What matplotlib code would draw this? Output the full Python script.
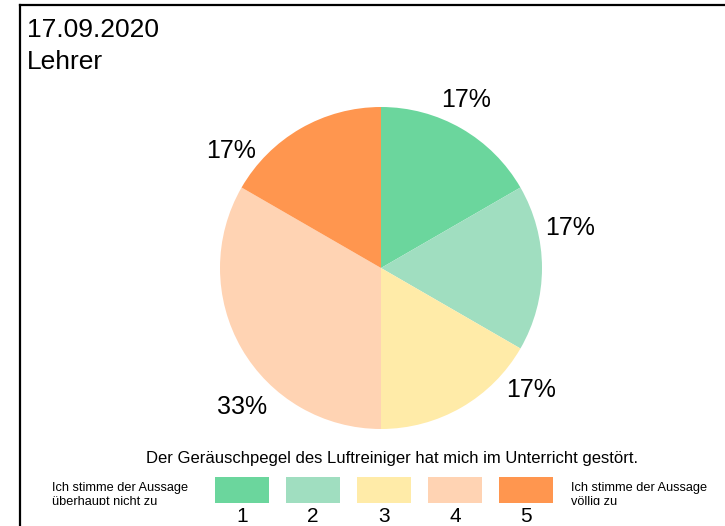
import numpy as np
import matplotlib.pyplot as plt
from matplotlib.lines import Line2D
from matplotlib.transforms import Bbox

plt.rcParams["font.family"] = ["Liberation Sans", "DejaVu Sans"]

# Survey answers (counts per rating)
ratings = ["1", "2", "3", "4", "5"]
counts = [1, 1, 1, 2, 1]
colors = ["#6bd69d", "#a0dec0", "#ffeba8", "#ffd3b3", "#ff964f"]

date_text = "17.09.2020"
group_text = "Lehrer"
question = "Der Geräuschpegel des Luftreiniger hat mich im Unterricht gestört."
low_label = "Ich stimme der Aussage\nüberhaupt nicht zu"
high_label = "Ich stimme der Aussage\nvöllig zu"

W, H = 725, 526
fig = plt.figure(figsize=(W / 100, H / 100), dpi=100)


def px(x0, y0, w, h):
    """ Pixel box (from top-left) to figure fraction rect. """
    return [x0 / W, 1 - (y0 + h) / H, w / W, h / H]


# Frame lines along top and left
fig.add_artist(Line2D([20 / W, 1], [1 - 5 / H, 1 - 5 / H], color="black", lw=1.6,
                      transform=fig.transFigure))
fig.add_artist(Line2D([20 / W, 20 / W], [1 - 5 / H, 0], color="black", lw=1.6,
                      transform=fig.transFigure))

fig.text(27 / W, 1 - 37 / H, date_text, fontsize=19, va="baseline")
fig.text(27 / W, 1 - 69 / H, group_text, fontsize=19, va="baseline")

# Pie chart, centre (381, 268), radius 161 px
R = 161
half = 1.5 * R
ax = fig.add_axes(px(381 - half, 268 - half, 2 * half, 2 * half))
ax.pie(counts, colors=colors, startangle=90, counterclock=False,
       wedgeprops={"linewidth": 0})
ax.set_xlim(-1.5, 1.5)
ax.set_ylim(-1.5, 1.5)
ax.set_aspect("equal")
ax.axis("off")

# Percentage labels outside the wedges, nudged counter-clockwise
total = sum(counts)
shares = np.array(counts) / total
mids = (np.cumsum(shares) - shares / 2) * 360
nudge = [3, 12, 21, 15, 22]
dist = [1.17, 1.2, 1.2, 1.22, 1.18]
for share, mid, dn, r in zip(shares, mids, nudge, dist):
    ang = np.radians(mid - dn)
    ax.text(r * np.sin(ang), r * np.cos(ang), "%d%%" % round(share * 100),
            fontsize=18, ha="center", va="center")

# Legend
fig.text(392 / W, 1 - 459 / H, question, fontsize=12, ha="center", va="center")

leg = fig.add_axes(px(206.5, 477, 355, 26))
leg.bar(range(len(ratings)), 1, width=0.75, color=colors, align="center")
leg.set_xlim(-0.5, len(ratings) - 0.5)
leg.set_ylim(0, 1)
leg.set_xticks(range(len(ratings)))
leg.set_xticklabels(ratings, fontsize=15)
leg.tick_params(axis="x", length=0, pad=3)
leg.set_yticks([])
for s in leg.spines.values():
    s.set_visible(False)

# End-point captions, second line cut off below
clip = Bbox.from_extents(0, H - 505, W, H)
for x, label in [(52, low_label), (571, high_label)]:
    t = fig.text(x / W, 1 - 482 / H, label, fontsize=9.2, va="top",
                 linespacing=1.2)
    t.set_clip_box(clip)
    t.set_clip_on(True)

fig.savefig("out.png", dpi=100)
